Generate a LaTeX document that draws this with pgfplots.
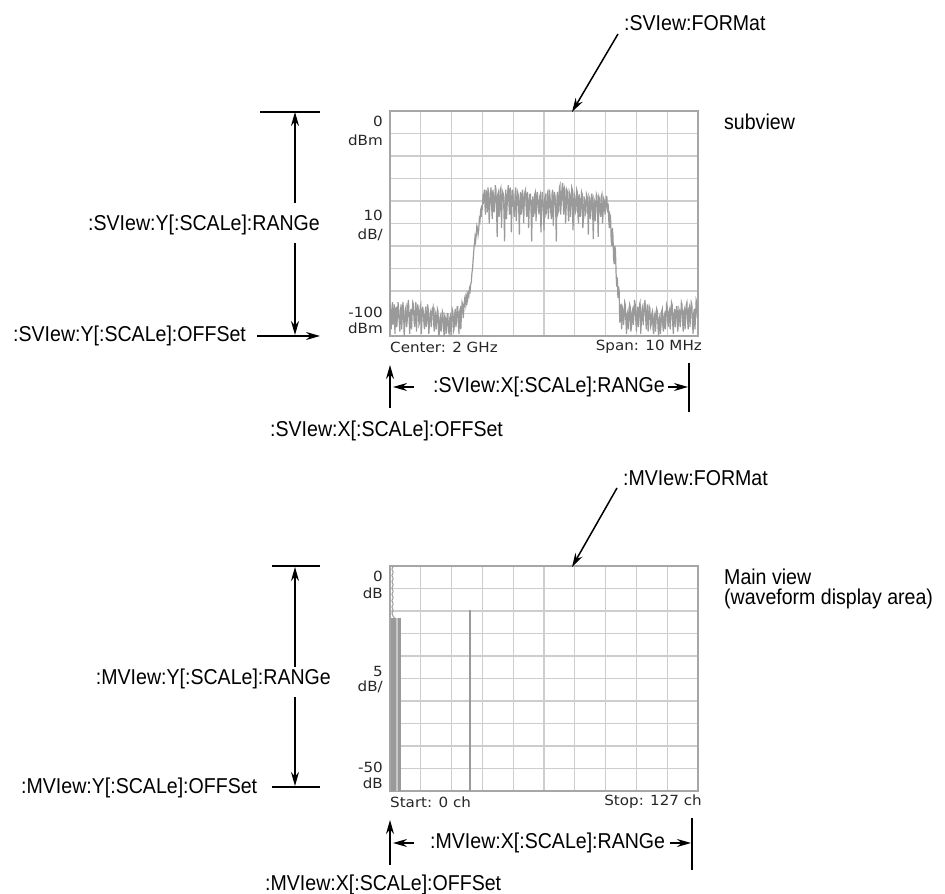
\documentclass[border=0pt]{standalone}
\usepackage{fontspec}
\setmainfont{Liberation Sans}[FakeStretch=0.91]
\newfontfamily\scr{DejaVu Sans}[FakeStretch=1.08]
\usepackage{pgfplots}
\pgfplotsset{compat=1.18}
\usetikzlibrary{arrows.meta}
\definecolor{gridc}{HTML}{CDCDCD}
\definecolor{framec}{HTML}{A6A6A6}
\definecolor{trc}{HTML}{9A9A9A}
\definecolor{trl}{HTML}{C8C8C8}
\tikzset{
  arr/.style={line width=1.5bp,-{Stealth[length=14bp,width=8bp]}},
  ln/.style={line width=1.3bp},
  ann/.style={inner sep=0pt,font=\fontsize{21.5bp}{25bp}\selectfont},
  tl/.style={inner sep=0pt,anchor=east,text=black!85,font=\scr\fontsize{14bp}{16bp}\selectfont},
}
\pgfplotsset{myax/.style={
  scale only axis, width=308bp, height=225bp, anchor=south west,
  xticklabels={}, yticklabels={}, grid=major,
  major grid style={draw=gridc, line width=1.1bp},
  major tick length=0pt,
  axis line style={draw=framec, line width=2bp},
}}
\pgfplotstableread{
x y
0.00 -86
0.02 -93
0.04 -97
0.06 -88
0.08 -85
0.10 -95
0.12 -90
0.14 -86
0.16 -99
0.18 -91
0.20 -87
0.22 -96
0.24 -92
0.26 -85
0.28 -88
0.30 -94
0.32 -98
0.34 -89
0.36 -86
0.38 -97
0.40 -91
0.42 -85
0.44 -89
0.46 -100
0.48 -95
0.50 -88
0.52 -87
0.54 -96
0.56 -93
0.58 -86
0.60 -84
0.62 -92
0.64 -99
0.66 -90
0.68 -88
0.70 -97
0.72 -90
0.74 -85
0.76 -86
0.78 -93
0.80 -96
0.82 -89
0.84 -85
0.86 -98
0.88 -91
0.90 -86
0.92 -88
0.94 -95
0.96 -94
0.98 -87
1.00 -86
1.02 -99
1.04 -92
1.06 -87
1.08 -89
1.10 -94
1.12 -97
1.14 -90
1.16 -87
1.18 -96
1.20 -93
1.22 -86
1.24 -88
1.26 -99
1.28 -95
1.30 -90
1.32 -89
1.34 -96
1.36 -91
1.38 -88
1.40 -87
1.42 -95
1.44 -98
1.46 -89
1.48 -90
1.50 -97
1.52 -94
1.54 -88
1.56 -89
1.58 -100
1.60 -99
1.62 -92
1.64 -91
1.66 -98
1.68 -95
1.70 -89
1.72 -90
1.74 -97
1.76 -100
1.78 -91
1.80 -92
1.82 -99
1.84 -96
1.86 -90
1.88 -90
1.90 -98
1.92 -99
1.94 -92
1.96 -91
1.98 -100
2.00 -94
2.02 -88
2.04 -89
2.06 -98
2.08 -97
2.10 -90
2.12 -88
2.14 -96
2.16 -93
2.18 -87
2.20 -87
2.22 -95
2.24 -99
2.26 -89
2.28 -88
2.30 -97
2.32 -90
2.34 -85
2.36 -86
2.38 -92
2.40 -87
2.42 -84
2.44 -86
2.46 -83
2.48 -85
2.50 -82
2.52 -84
2.54 -81
2.56 -82
2.58 -79
2.60 -80
2.62 -77
2.64 -76
2.66 -72
2.68 -70
2.70 -66
2.72 -62
2.74 -59
2.76 -56
2.78 -58
2.80 -55
2.82 -51
2.84 -52
2.86 -55
2.88 -53
2.90 -48
2.92 -49
2.94 -45
2.96 -47
2.98 -42
3.00 -44
3.02 -37
3.04 -39
3.06 -35
3.08 -41
3.10 -46
3.12 -35
3.14 -40
3.16 -45
3.18 -34
3.20 -37
3.22 -50
3.24 -42
3.26 -36
3.28 -34
3.30 -43
3.32 -48
3.34 -35
3.36 -38
3.38 -45
3.40 -41
3.42 -33
3.44 -35
3.46 -44
3.48 -56
3.50 -37
3.52 -36
3.54 -47
3.56 -44
3.58 -35
3.60 -34
3.62 -52
3.64 -40
3.66 -36
3.68 -37
3.70 -45
3.72 -58
3.74 -39
3.76 -35
3.78 -48
3.80 -43
3.82 -36
3.84 -33
3.86 -41
3.88 -46
3.90 -34
3.92 -36
3.94 -54
3.96 -41
3.98 -35
4.00 -38
4.02 -45
4.04 -47
4.06 -37
4.08 -34
4.10 -49
4.12 -42
4.14 -36
4.16 -37
4.18 -44
4.20 -55
4.22 -39
4.24 -36
4.26 -46
4.28 -44
4.30 -35
4.32 -38
4.34 -50
4.36 -40
4.38 -36
4.40 -35
4.42 -43
4.44 -47
4.46 -36
4.48 -39
4.50 -52
4.52 -43
4.54 -37
4.56 -37
4.58 -45
4.60 -58
4.62 -40
4.64 -38
4.66 -47
4.68 -45
4.70 -37
4.72 -36
4.74 -49
4.76 -42
4.78 -36
4.80 -39
4.82 -44
4.84 -46
4.86 -38
4.88 -37
4.90 -54
4.92 -44
4.94 -36
4.96 -40
4.98 -45
5.00 -53
5.02 -39
5.04 -38
5.06 -46
5.08 -45
5.10 -37
5.12 -36
5.14 -48
5.16 -43
5.18 -35
5.20 -39
5.22 -45
5.24 -48
5.26 -37
5.28 -35
5.30 -51
5.32 -42
5.34 -36
5.36 -38
5.38 -44
5.40 -58
5.42 -38
5.44 -36
5.46 -45
5.48 -44
5.50 -34
5.52 -33
5.54 -46
5.56 -41
5.58 -35
5.60 -32
5.62 -40
5.64 -46
5.66 -34
5.68 -35
5.70 -50
5.72 -43
5.74 -35
5.76 -36
5.78 -44
5.80 -49
5.82 -36
5.84 -37
5.86 -47
5.88 -42
5.90 -34
5.92 -35
5.94 -53
5.96 -47
5.98 -37
6.00 -38
6.02 -45
6.04 -44
6.06 -35
6.08 -36
6.10 -46
6.12 -50
6.14 -37
6.16 -39
6.18 -47
6.20 -43
6.22 -36
6.24 -37
6.26 -52
6.28 -48
6.30 -38
6.32 -40
6.34 -46
6.36 -45
6.38 -37
6.40 -38
6.42 -44
6.44 -55
6.46 -38
6.48 -39
6.50 -48
6.52 -46
6.54 -37
6.56 -37
6.58 -45
6.60 -57
6.62 -39
6.64 -40
6.66 -49
6.68 -44
6.70 -37
6.72 -38
6.74 -46
6.76 -56
6.78 -38
6.80 -39
6.82 -45
6.84 -47
6.86 -38
6.88 -37
6.90 -50
6.92 -45
6.94 -39
6.96 -40
6.98 -46
7.00 -43
7.02 -38
7.04 -38
7.06 -45
7.08 -41
7.10 -48
7.12 -52
7.14 -46
7.16 -47
7.18 -57
7.20 -60
7.22 -52
7.24 -56
7.26 -66
7.28 -68
7.30 -60
7.32 -62
7.34 -72
7.36 -78
7.38 -74
7.40 -83
7.42 -78
7.44 -80
7.46 -94
7.48 -92
7.50 -86
7.52 -97
7.54 -87
7.56 -88
7.58 -95
7.60 -92
7.62 -85
7.64 -86
7.66 -94
7.68 -99
7.70 -90
7.72 -89
7.74 -97
7.76 -93
7.78 -86
7.80 -87
7.82 -98
7.84 -96
7.86 -89
7.88 -88
7.90 -95
7.92 -91
7.94 -84
7.96 -86
7.98 -93
8.00 -98
8.02 -90
8.04 -87
8.06 -96
8.08 -92
8.10 -86
8.12 -85
8.14 -99
8.16 -94
8.18 -88
8.20 -87
8.22 -95
8.24 -90
8.26 -86
8.28 -84
8.30 -92
8.32 -97
8.34 -88
8.36 -86
8.38 -98
8.40 -92
8.42 -87
8.44 -88
8.46 -96
8.48 -95
8.50 -90
8.52 -89
8.54 -97
8.56 -99
8.58 -91
8.60 -90
8.62 -98
8.64 -93
8.66 -88
8.68 -89
8.70 -96
8.72 -100
8.74 -92
8.76 -91
8.78 -99
8.80 -95
8.82 -89
8.84 -88
8.86 -96
8.88 -98
8.90 -91
8.92 -90
8.94 -97
8.96 -93
8.98 -86
9.00 -87
9.02 -94
9.04 -96
9.06 -89
9.08 -88
9.10 -97
9.12 -91
9.14 -85
9.16 -86
9.18 -95
9.20 -99
9.22 -90
9.24 -88
9.26 -96
9.28 -93
9.30 -87
9.32 -87
9.34 -98
9.36 -95
9.38 -88
9.40 -89
9.42 -96
9.44 -91
9.46 -85
9.48 -86
9.50 -94
9.52 -98
9.54 -89
9.56 -88
9.58 -97
9.60 -92
9.62 -86
9.64 -85
9.66 -93
9.68 -97
9.70 -88
9.72 -87
9.74 -96
9.76 -90
9.78 -85
9.80 -86
9.82 -94
9.84 -99
9.86 -90
9.88 -88
9.90 -97
9.92 -91
9.94 -84
9.96 -85
9.98 -92
10.00 -86
}\spectrum
\begin{document}
\begin{tikzpicture}[x=1bp,y=1bp]
\useasboundingbox (0,0) rectangle (945,894);
% ---------- subview ----------
\begin{axis}[myax, at={(390bp,558bp)}, xmin=0, xmax=10, ymin=-100, ymax=0,
  xtick={0,1,2,3,4,5,6,7,8,9,10}, ytick={-100,-90,-80,-70,-60,-50,-40,-30,-20,-10,0}]
\addplot[draw=trc, line width=1.2bp] table[x=x,y=y] {\spectrum};
\end{axis}
% ---------- main view ----------
\begin{axis}[myax, at={(390bp,103bp)}, xmin=0, xmax=127, ymin=-50, ymax=0,
  xtick={0,12.7,25.4,38.1,50.8,63.5,76.2,88.9,101.6,114.3,127},
  ytick={-50,-45,-40,-35,-30,-25,-20,-15,-10,-5,0}]
\addplot[draw=trc, line width=1bp] coordinates {(1.3,0)(0.8,-0.7)(1.3,-1.4)(0.8,-2.1)(1.3,-2.8)(0.8,-3.5)(1.3,-4.2)(0.8,-4.9)(1.3,-5.6)(0.8,-6.3)(1.3,-7.0)(0.8,-7.7)(1.3,-8.4)(0.8,-9.1)(1.3,-9.8)(0.8,-10.5)(1.3,-11.2)(2,-11.6)};
\addplot[draw=trc, line width=2.45bp] coordinates {(1,-50)(1,-11.6)};
\addplot[draw=trc, line width=2.45bp] coordinates {(2,-50)(2,-11.6)};
\addplot[draw=trl, line width=2.45bp] coordinates {(3,-50)(3,-11.6)};
\addplot[draw=trc, line width=2.45bp] coordinates {(4,-50)(4,-11.6)};
\addplot[draw=trc, line width=1.6bp] coordinates {(33,-50)(33,-9.8)};
\end{axis}
% ---------- tick labels ----------
\node[tl] at (383,773) {0};
\node[tl] at (383,754) {dBm};
\node[tl] at (383,679) {10};
\node[tl] at (383,659) {dB/};
\node[tl] at (383,582) {-100};
\node[tl] at (383,566) {dBm};
\node[tl,anchor=west] at (390,547) {Center: 2 GHz};
\node[tl] at (702,547) {Span: 10 MHz};
\node[tl] at (383,318) {0};
\node[tl] at (383,301) {dB};
\node[tl] at (383,223) {5};
\node[tl] at (383,207) {dB/};
\node[tl] at (383,127) {-50};
\node[tl] at (383,111) {dB};
\node[tl,anchor=west] at (390,92) {Start: 0 ch};
\node[tl] at (702,92) {Stop: 127 ch};
% ---------- annotations: subview ----------
\node[ann,anchor=west] at (624,871) {:SVIew:FORMat};
\draw[arr] (618,860) -- (572,782);
\node[ann,anchor=west] at (724,772) {subview};
\draw[ln] (260,782) -- (320,782);
\draw[arr] (295,691) -- (295,782);
\draw[arr] (295,651) -- (295,559);
\node[ann,anchor=east] at (320,669) {:SVIew:Y[:SCALe]:RANGe};
\node[ann,anchor=west] at (13,558) {:SVIew:Y[:SCALe]:OFFSet};
\draw[arr] (257,558) -- (320,558);
\draw[arr] (390,486) -- (390,529);
\draw[arr] (414,507) -- (393,507);
\node[ann,anchor=west] at (433,507) {:SVIew:X[:SCALe]:RANGe};
\draw[arr] (668,507) -- (688,507);
\draw[ln] (689,531) -- (689,482);
\node[ann,anchor=west] at (270,463) {:SVIew:X[:SCALe]:OFFSet};
% ---------- annotations: main view ----------
\node[ann,anchor=west] at (623,416) {:MVIew:FORMat};
\draw[arr] (617,406) -- (572,327);
\node[ann,anchor=west] at (724,317) {Main view};
\node[ann,anchor=west] at (724,295) {(waveform display area)};
\draw[ln] (272,328) -- (320,328);
\draw[arr] (295,227) -- (295,327);
\draw[arr] (295,197) -- (295,108);
\draw[ln] (272,107) -- (320,107);
\node[ann,anchor=east] at (331,215) {:MVIew:Y[:SCALe]:RANGe};
\node[ann,anchor=west] at (21,106) {:MVIew:Y[:SCALe]:OFFSet};
\draw[arr] (390,29) -- (390,74);
\draw[arr] (414,51) -- (393,51);
\node[ann,anchor=west] at (430,51) {:MVIew:X[:SCALe]:RANGe};
\draw[arr] (670,51) -- (691,51);
\draw[ln] (692,76) -- (692,24);
\node[ann,anchor=west] at (265,9) {:MVIew:X[:SCALe]:OFFSet};
\end{tikzpicture}
\end{document}
